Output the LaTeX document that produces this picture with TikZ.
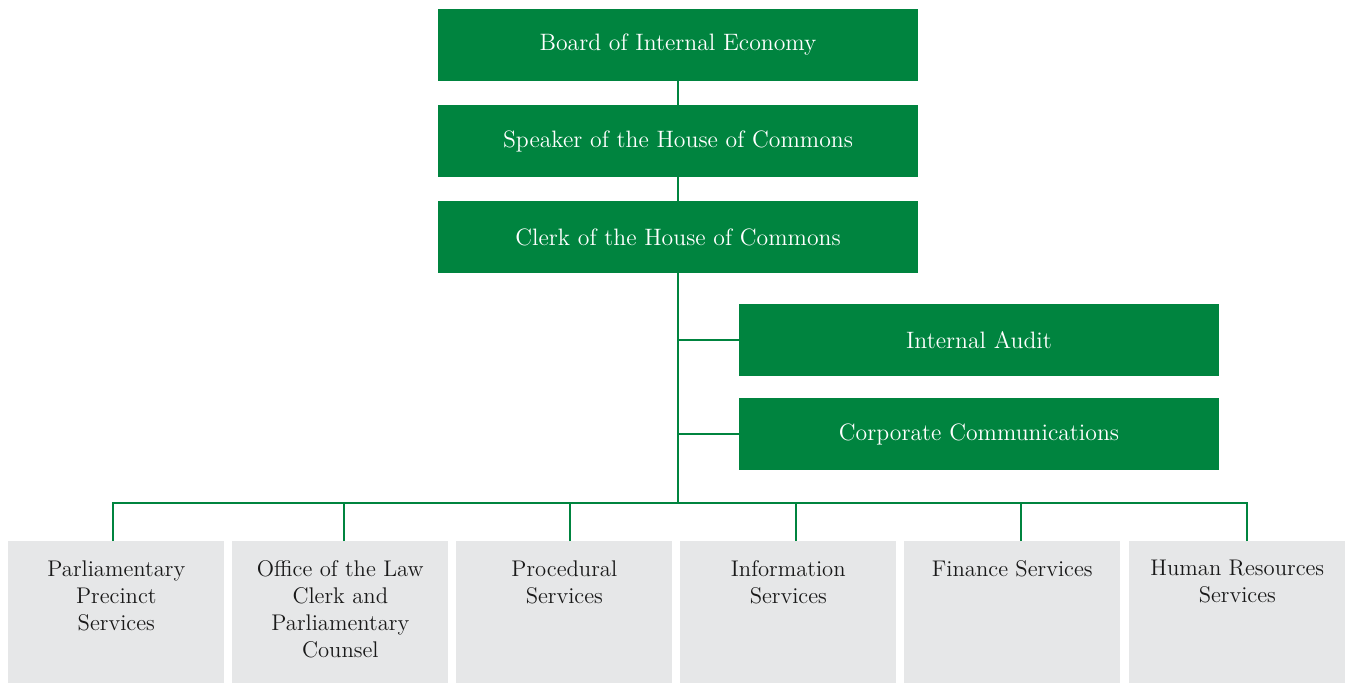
\documentclass[tikz,border=0pt]{standalone}
\usepackage{tikz}

\definecolor{hocgreen}{RGB}{0,132,63}
\definecolor{hocgrey}{RGB}{230,231,232}
\definecolor{hoctext}{RGB}{25,25,25}

\tikzset{
  greenbox/.style={fill=hocgreen, text=white, inner sep=0pt,
    minimum width=9.6cm, minimum height=1.44cm,
    font=\fontsize{13.5}{15.4}\selectfont},
  greybox/.style={fill=hocgrey, text=hoctext, inner sep=0pt, anchor=north west,
    font=\fontsize{12.9}{15.4}\selectfont},
  link/.style={draw=hocgreen, line width=0.04cm}
}

% top aligned text in a grey unit box
\newcommand{\unitbox}[1]{\parbox[c][2.84cm][t]{4.32cm}{\centering\vspace*{0.38cm}#1\par}}

\begin{document}
\begin{tikzpicture}[x=0.02cm,y=-0.02cm]
\useasboundingbox (0,0) rectangle (1345,683);

% Chain of command
\node [greenbox] (boie) at (678,45) {Board of Internal Economy};
\node [greenbox] (speaker) at (678,141) {Speaker of the House of Commons};
\node [greenbox] (clerk) at (678,237) {Clerk of the House of Commons};

% Offices reporting to the Clerk
\node [greenbox] (audit) at (979,340) {Internal Audit};
\node [greenbox] (comms) at (979,434) {Corporate Communications};

% Service units
\node [greybox] (precinct) at (8,541) {\unitbox{Parliamentary\\Precinct\\Services}};
\node [greybox] (law) at (232,541) {\unitbox{Office of the Law\\Clerk and\\Parliamentary\\Counsel}};
\node [greybox] (procedural) at (456,541) {\unitbox{Procedural\\Services}};
\node [greybox] (information) at (680,541) {\unitbox{Information\\Services}};
\node [greybox] (finance) at (904,541) {\unitbox{Finance Services}};
\node [greybox] (hr) at (1129,541) {\unitbox{Human Resources\\Services}};

% Trunk
\coordinate (hub) at (678,503);
\draw [link] (boie) -- (speaker);
\draw [link] (speaker) -- (clerk);
\draw [link] (clerk) -- (hub);

% Side branches
\draw [link] (audit.west) -- (audit.west -| hub);
\draw [link] (comms.west) -- (comms.west -| hub);

% Drops to the service units
\draw [link] ([xshift=-0.06cm]precinct.north) |- (hub);
\draw [link] ([xshift=0.08cm]law.north) |- (hub);
\draw [link] ([xshift=0.12cm]procedural.north) |- (hub);
\draw [link] ([xshift=0.16cm]information.north) |- (hub);
\draw [link] ([xshift=0.18cm]finance.north) |- (hub);
\draw [link] ([xshift=0.20cm]hr.north) |- (hub);
\end{tikzpicture}
\end{document}
